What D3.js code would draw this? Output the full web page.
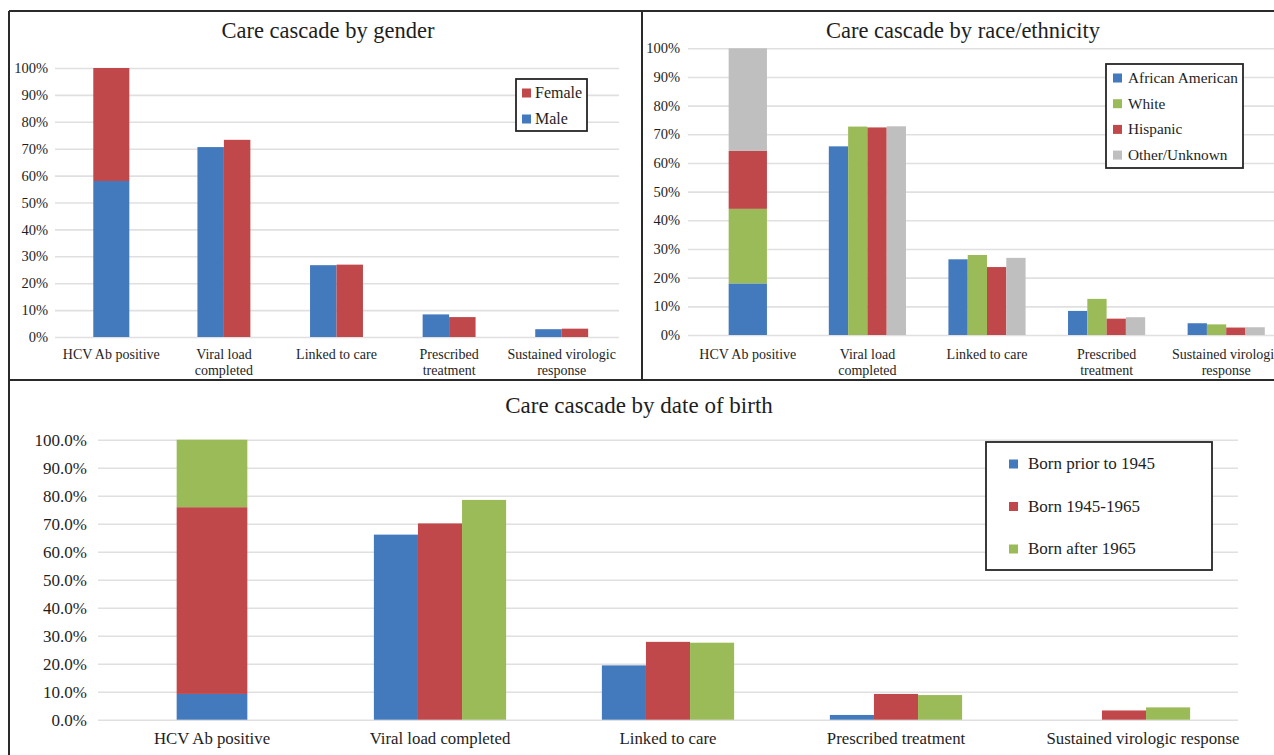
<!DOCTYPE html>
<html>
<head>
<meta charset="utf-8">
<title>HCV care cascade</title>
<script src="https://cdn.jsdelivr.net/npm/d3@7"></script>
<style>
  body { margin: 0; background: #fff; }
</style>
</head>
<body>
<div id="chart"></div>
<script>
// ---- data (percent) ----
var categories = ["HCV Ab positive", "Viral load completed", "Linked to care",
                  "Prescribed treatment", "Sustained virologic response"];
// two-line tick labels used in the two small panels
var shortTickLabels = [["HCV Ab positive"], ["Viral load", "completed"], ["Linked to care"],
                       ["Prescribed", "treatment"], ["Sustained virologic", "response"]];
var yTicks = [0, 10, 20, 30, 40, 50, 60, 70, 80, 90, 100];

var genderSeries = ["Male", "Female"];
var genderMale   = [58, 70.6, 26.7, 8.4, 2.9];
var genderFemale = [42, 73.3, 26.9, 7.4, 3.1];

var raceSeries = ["African American", "White", "Hispanic", "Other/Unknown"];
var raceAfricanAmerican = [18, 65.8, 26.4, 8.4, 4.1];
var raceWhite           = [26, 72.7, 27.9, 12.6, 3.7];
var raceHispanic        = [20.2, 72.4, 23.7, 5.7, 2.6];
var raceOther           = [35.8, 72.8, 26.9, 6.2, 2.7];

var birthSeries = ["Born prior to 1945", "Born 1945-1965", "Born after 1965"];
var birthBefore1945 = [9.2, 66.1, 19.4, 1.7, 0];
var birth1945to1965 = [66.7, 70.1, 27.8, 9.2, 3.3];
var birthAfter1965  = [24.1, 78.5, 27.5, 8.8, 4.4];

var BLUE = "#4379bd", RED = "#c0474a", GREEN = "#9bbb59", GRAY = "#bfbfbf";
var FONT = "'Liberation Serif', 'DejaVu Serif', serif";

var W = 1274, H = 755;
var svg = d3.select("#chart").append("svg")
    .attr("width", W).attr("height", H)
    .attr("font-family", FONT);

// panel frame lines
var frame = svg.append("g").attr("stroke", "#2a2a2a").attr("stroke-width", 2).attr("fill", "none");
frame.append("line").attr("x1", 9).attr("x2", W).attr("y1", 11).attr("y2", 11);
frame.append("line").attr("x1", 9).attr("x2", 9).attr("y1", 11).attr("y2", H);
frame.append("line").attr("x1", 642).attr("x2", 642).attr("y1", 11).attr("y2", 380);
frame.append("line").attr("x1", 9).attr("x2", W).attr("y1", 380).attr("y2", 380);

function drawPanel(o) {
    var g = svg.append("g");
    var x = d3.scaleBand().domain(d3.range(categories.length)).range([o.x0, o.x1]);
    var y = d3.scaleLinear().domain([0, 100]).range([o.yZero, o.yFull]);
    var bw = x.bandwidth();

    // gridlines + y tick labels
    var ax = g.append("g")
        .attr("transform", "translate(" + o.x0 + ",0)")
        .call(d3.axisLeft(y).tickValues(yTicks).tickFormat(o.fmt)
              .tickSize(-(o.gridEnd - o.x0)).tickPadding(o.tickPad));
    ax.attr("font-family", FONT).attr("font-size", o.tickFont);
    ax.select(".domain").remove();
    ax.selectAll("line").attr("stroke", "#e0e0e0").attr("stroke-width", 1.6);
    ax.selectAll("text").attr("fill", "#1e1e1e");

    // stacked first category
    var row = {};
    o.series.forEach(function (s, i) { row[s] = o.values[i][0]; });
    var stacked = d3.stack().keys(o.series)([row]);
    var sw = bw * o.stackFrac;
    g.selectAll(".stk").data(stacked).enter().append("rect")
        .attr("x", x(0) + (bw - sw) / 2)
        .attr("width", sw)
        .attr("y", function (d) { return y(d[0][1]); })
        .attr("height", function (d) { return y(d[0][0]) - y(d[0][1]); })
        .attr("fill", function (d, i) { return o.colors[i]; });

    // clustered remaining categories
    var inner = d3.scaleBand().domain(o.series).range([0, bw * o.groupFrac]);
    var cells = [];
    for (var c = 1; c < categories.length; c++) {
        o.series.forEach(function (s, i) {
            cells.push({ c: c, s: s, i: i, v: o.values[i][c] });
        });
    }
    g.selectAll(".bar").data(cells).enter().append("rect")
        .attr("x", function (d) { return x(d.c) + bw * (1 - o.groupFrac) / 2 + inner(d.s); })
        .attr("width", inner.bandwidth())
        .attr("y", function (d) { return y(d.v); })
        .attr("height", function (d) { return y(0) - y(d.v); })
        .attr("fill", function (d) { return o.colors[d.i]; });

    // category labels
    var lab = g.selectAll(".cat").data(o.labels).enter().append("text")
        .attr("text-anchor", "middle")
        .attr("font-size", o.labelFont)
        .attr("fill", "#1e1e1e")
        .attr("transform", function (d, i) {
            var shift = (i === o.labels.length - 1) ? (o.lastShift || 0) : 0;
            return "translate(" + (x(i) + bw / 2 + shift) + "," + o.labelY + ")";
        });
    lab.selectAll("tspan").data(function (d) { return d; }).enter().append("tspan")
        .attr("x", 0)
        .attr("dy", function (d, i) { return i === 0 ? 0 : o.labelStep; })
        .text(function (d) { return d; });

    // title
    g.append("text").attr("x", o.titleX).attr("y", o.titleY)
        .attr("text-anchor", "middle").attr("font-size", o.titleFont)
        .attr("fill", "#1e1e1e")
        .text(o.title);

    // legend
    var L = o.legend;
    var lg = g.append("g");
    lg.append("rect").attr("x", L.x).attr("y", L.y).attr("width", L.w).attr("height", L.h)
        .attr("fill", "#fff").attr("stroke", "#262626").attr("stroke-width", 1.8);
    var items = lg.selectAll(".li").data(L.order).enter().append("g")
        .attr("transform", function (d, k) {
            return "translate(" + L.x + "," + (L.first + k * L.step) + ")";
        });
    items.append("rect").attr("x", L.swX).attr("y", -L.sw - 0.5)
        .attr("width", L.sw).attr("height", L.sw)
        .attr("fill", function (d) { return o.colors[o.series.indexOf(d)]; });
    items.append("text").attr("x", L.txX).attr("font-size", L.font)
        .attr("fill", "#1e1e1e")
        .text(function (d) { return d; });
}

drawPanel({
    title: "Care cascade by gender", titleX: 328, titleY: 38, titleFont: 22.5,
    x0: 55, x1: 618, gridEnd: 619, yZero: 337, yFull: 68,
    fmt: function (d) { return d + "%"; }, tickFont: 14.5, tickPad: 7,
    series: genderSeries, values: [genderMale, genderFemale], colors: [BLUE, RED],
    stackFrac: 0.32, groupFrac: 0.47,
    labels: shortTickLabels, labelY: 359, labelStep: 16, labelFont: 14,
    legend: { x: 516, y: 79, w: 71, h: 52, order: ["Female", "Male"],
              first: 98, step: 26, swX: 6, sw: 9, txX: 19, font: 16 }
});

drawPanel({
    title: "Care cascade by race/ethnicity", titleX: 963, titleY: 38, titleFont: 22.5,
    x0: 688, x1: 1286, gridEnd: 1290, yZero: 335, yFull: 48.3,
    fmt: function (d) { return d + "%"; }, tickFont: 14.5, tickPad: 8,
    series: raceSeries, values: [raceAfricanAmerican, raceWhite, raceHispanic, raceOther],
    colors: [BLUE, GREEN, RED, GRAY],
    stackFrac: 0.32, groupFrac: 0.645,
    labels: shortTickLabels, labelY: 359, labelStep: 16, labelFont: 14,
    legend: { x: 1106, y: 64, w: 137, h: 104, order: raceSeries,
              first: 83, step: 25.7, swX: 7, sw: 9, txX: 22, font: 15.3 }
});

drawPanel({
    title: "Care cascade by date of birth", titleX: 639, titleY: 413, titleFont: 23,
    x0: 98, x1: 1238, gridEnd: 1238, yZero: 719.7, yFull: 439.7,
    fmt: function (d) { return d3.format(".1f")(d) + "%"; }, tickFont: 17, tickPad: 11,
    series: birthSeries, values: [birthBefore1945, birth1945to1965, birthAfter1965],
    colors: [BLUE, RED, GREEN],
    stackFrac: 0.31, groupFrac: 0.58,
    labels: categories.map(function (c) { return [c]; }), labelY: 744, labelStep: 18,
    labelFont: 16.8, lastShift: 19,
    legend: { x: 986, y: 442, w: 226, h: 128, order: birthSeries,
              first: 469, step: 42.5, swX: 23, sw: 9, txX: 42, font: 17 }
});
</script>
</body>
</html>
